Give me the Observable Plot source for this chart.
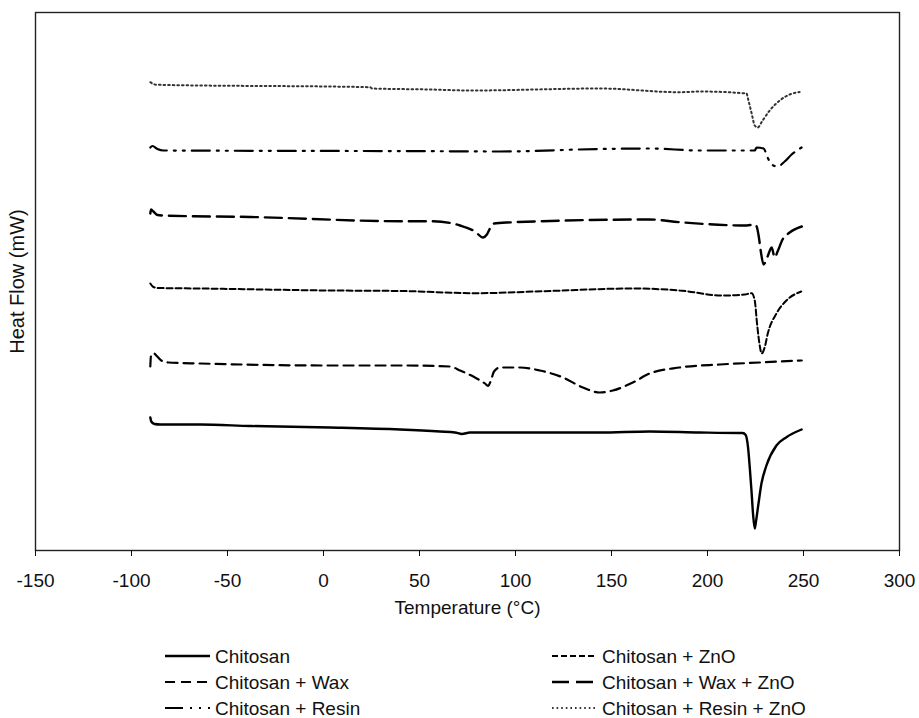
<!DOCTYPE html>
<html>
<head>
<meta charset="utf-8">
<script src="https://cdn.jsdelivr.net/npm/d3@7"></script>
<script src="https://cdn.jsdelivr.net/npm/@observablehq/plot@0.6"></script>
<style>
  html, body { margin: 0; padding: 0; background: #fff; }
  #chart { width: 919px; }
  #legend {
    width: 919px; box-sizing: border-box;
    display: grid; grid-template-columns: 387px auto; grid-auto-rows: 26px;
    padding-left: 165px; padding-top: 13px;
    font: 19px/1 "Liberation Sans", Arial, sans-serif; color: #111;
  }
  .item { display: flex; align-items: center; }
  .item svg { flex: none; }
  .item span { margin-left: 5px; white-space: nowrap; line-height: 1; }
</style>
</head>
<body>
<div id="chart"></div>
<div id="legend"></div>
<script>
// Temperature (°C) and heat flow (arbitrary offset units)
const chitosanT  = [-90.2,-89.7,-88.1,-85.0,-64.2,-38.1,3.5,39.9,60.7,68.5,72.1,76.3,102.3,143.9,169.9,195.9,216.8,218.3,219.9,221.1,222.0,222.9,223.7,224.6,225.1,226.3,228.1,230.7,235.9,241.1,249.0];
const chitosanHF = [13.3,12.9,12.65,12.6,12.6,12.45,12.3,12.1,11.9,11.8,11.65,11.8,11.8,11.8,11.9,11.8,11.75,11.75,11.55,10.33,8.33,6.0,3.7,2.2,2.7,4.33,6.7,8.5,10.5,11.33,12.1];

const waxT  = [-90.2,-89.9,-88.6,-87.1,-84.5,-80.8,-64.2,3.5,39.9,65.9,71.1,78.9,84.1,85.7,87.2,88.8,91.9,102.3,112.7,124.7,135.1,143.9,150.7,161.1,169.9,185.5,206.4,227.2,249.1];
const waxHF = [18.4,19.4,19.75,19.5,19.0,18.8,18.7,18.5,18.5,18.4,18.0,17.3,16.7,16.45,17.0,17.9,18.3,18.3,18.0,17.3,16.3,15.8,16.0,16.8,17.7,18.3,18.6,18.8,19.0];

const znoT  = [-90.2,-88.6,-86.0,-64.2,3.5,39.9,79.9,114.3,161.1,185.5,207.9,219.4,223.0,224.6,225.9,227.2,228.2,229.8,231.4,235.9,241.1,248.8];
const znoHF = [26.7,26.35,26.25,26.2,26.0,25.95,25.73,25.93,26.2,26.0,25.5,25.6,25.73,25.0,22.5,20.5,19.7,20.33,21.7,23.7,25.0,25.9];

const waxZnoT  = [-90.2,-89.8,-88.6,-86.5,-83.4,-38.1,39.9,57.1,71.1,78.9,83.1,85.1,86.7,88.8,95.6,169.9,185.5,220.4,224.6,225.6,226.7,227.7,229.2,231.3,233.4,235.0,236.5,239.1,242.8,249.1];
const waxZnoHF = [33.7,34.1,33.9,33.55,33.5,33.35,32.93,32.93,32.5,31.9,31.3,31.6,32.2,32.7,32.8,33.1,32.83,32.5,32.6,32.4,31.4,30.0,28.6,29.4,30.3,29.3,29.9,31.1,31.8,32.4];

const resinT  = [-90.2,-89.1,-86.5,-83.4,55.5,91.9,143.9,169.9,195.9,224.6,225.6,229.2,231.3,233.4,236.5,240.2,243.8,249.0];
const resinHF = [40.3,40.45,40.15,40.0,39.93,39.9,40.15,40.2,40.0,40.0,40.3,40.2,39.3,38.6,38.4,38.9,39.6,40.3];

const resinZnoT  = [-90.2,-88.6,-86.5,24.3,25.3,55.5,76.3,143.9,185.5,195.9,220.4,220.9,223.0,224.6,226.1,228.7,232.4,237.6,242.8,248.0];
const resinZnoHF = [46.83,46.65,46.57,46.33,46.2,46.1,46.0,46.2,45.83,45.9,45.7,45.33,43.7,42.5,42.3,43.0,44.0,45.0,45.6,45.85];

const seriesNames = ["Chitosan","Chitosan + Wax","Chitosan + ZnO","Chitosan + Wax + ZnO","Chitosan + Resin","Chitosan + Resin + ZnO"];
const xTicks = [-150,-100,-50,0,50,100,150,200,250,300];

// styles (kept separate from data)
const styles = {
  "Chitosan":               {stroke: "#000", strokeWidth: 2.4, dash: null},
  "Chitosan + Wax":         {stroke: "#000", strokeWidth: 2.2, dash: "10,6"},
  "Chitosan + ZnO":         {stroke: "#000", strokeWidth: 2.0, dash: "6,3"},
  "Chitosan + Wax + ZnO":   {stroke: "#000", strokeWidth: 2.4, dash: "17,7"},
  "Chitosan + Resin":       {stroke: "#000", strokeWidth: 2.2, dash: "18,7,2,7,2,7"},
  "Chitosan + Resin + ZnO": {stroke: "#333", strokeWidth: 2.0, dash: "1.6,3"}
};

const seriesData = {
  "Chitosan": [chitosanT, chitosanHF],
  "Chitosan + Wax": [waxT, waxHF],
  "Chitosan + ZnO": [znoT, znoHF],
  "Chitosan + Wax + ZnO": [waxZnoT, waxZnoHF],
  "Chitosan + Resin": [resinT, resinHF],
  "Chitosan + Resin + ZnO": [resinZnoT, resinZnoHF]
};

const rows = name => seriesData[name][0].map((t, i) => ({t, hf: seriesData[name][1][i], series: name}));

const H = 630;
const chart = Plot.plot({
  width: 919,
  height: H,
  marginLeft: 35,
  marginRight: 20,
  marginTop: 12,
  marginBottom: H - 550,
  style: {fontFamily: "'Liberation Sans', Arial, sans-serif", fontSize: "20px", color: "#111", background: "#fff"},
  x: {domain: [-150, 300]},
  y: {domain: [0, 53.8]},
  marks: [
    ...seriesNames.map(name => {
      const s = styles[name];
      return Plot.line(rows(name), {
        x: "t", y: "hf", curve: "monotone-x",
        stroke: s.stroke, strokeWidth: s.strokeWidth,
        strokeDasharray: s.dash || undefined
      });
    }),
    Plot.frame({stroke: "#222", strokeWidth: 1.4}),
    Plot.axisX({ticks: xTicks, tickFormat: d => String(d), tickSize: 6, tickPadding: 17, fontSize: 19,
      label: "Temperature (°C)", labelAnchor: "center", labelOffset: 63, labelArrow: "none"}),
    Plot.axisY({ticks: [], label: "Heat Flow (mW)", labelAnchor: "center", labelOffset: 26, fontSize: 20, labelArrow: "none"})
  ]
});
document.getElementById("chart").appendChild(chart);

// HTML legend, two columns, ordered as in the reference
const legendOrder = ["Chitosan","Chitosan + ZnO","Chitosan + Wax","Chitosan + Wax + ZnO","Chitosan + Resin","Chitosan + Resin + ZnO"];
const legend = document.getElementById("legend");
for (const name of legendOrder) {
  const s = styles[name];
  const item = document.createElement("div");
  item.className = "item";
  item.innerHTML = `<svg width="45" height="8"><line x1="0" y1="4" x2="45" y2="4" stroke="${s.stroke}" stroke-width="${s.strokeWidth}" ${s.dash ? `stroke-dasharray="${s.dash}"` : ""}/></svg><span>${name}</span>`;
  legend.appendChild(item);
}
</script>
</body>
</html>
